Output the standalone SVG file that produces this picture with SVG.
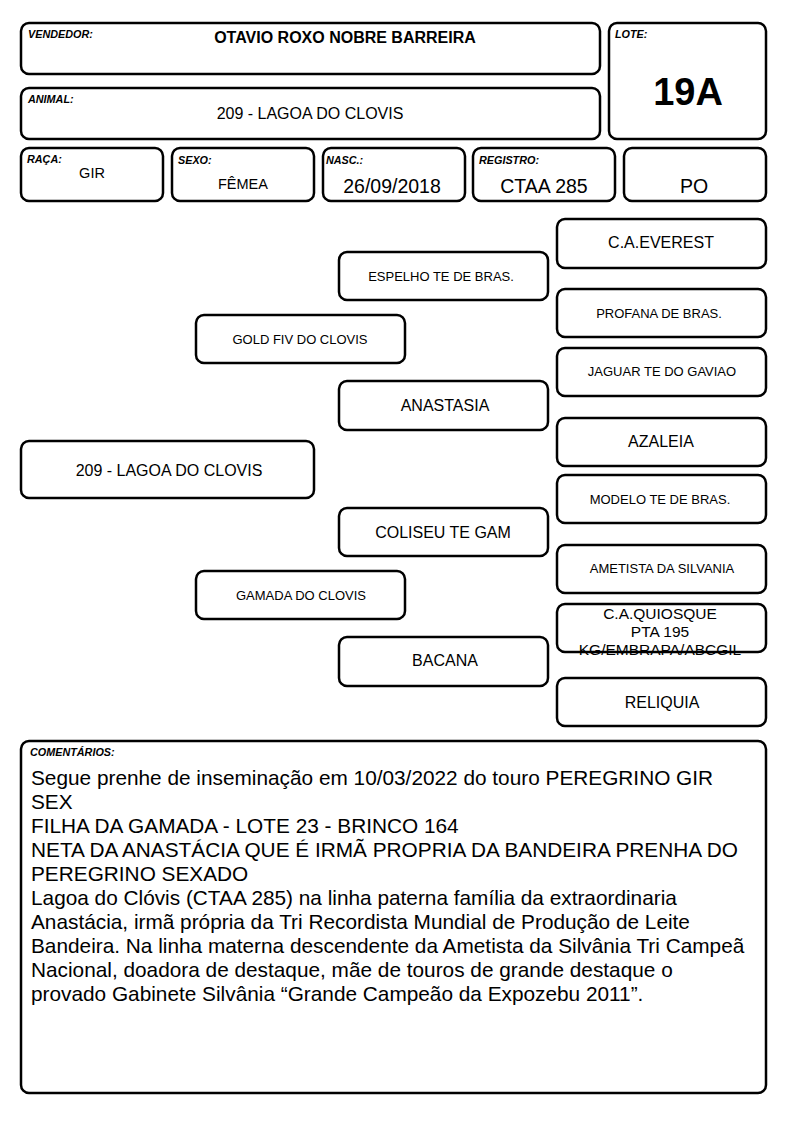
<svg xmlns="http://www.w3.org/2000/svg" width="794" height="1123" viewBox="0 0 794 1123">
<style>
.b{fill:#fff;stroke:#000;stroke-width:2.5}
.t{font-family:"Liberation Sans",Arial,sans-serif;fill:#000}
.lbl{font-family:"Liberation Sans",Arial,sans-serif;font-size:10.8px;font-weight:bold;font-style:italic;fill:#000}
.c{text-anchor:middle}
.s12{font-size:13px}
.s15{font-size:16px}
.s17{font-size:19.5px}
</style>
<rect width="794" height="1123" fill="#fff"/>
<g id="vendedor">
<rect class="b" x="21" y="23" width="579" height="51" rx="8"/>
<text class="lbl" x="28" y="38">VENDEDOR:</text>
<text class="t c" x="345" y="43" font-size="16" font-weight="bold">OTAVIO ROXO NOBRE BARREIRA</text>
</g>
<g id="lote">
<rect class="b" x="609" y="23" width="157" height="116" rx="8"/>
<text class="lbl" x="615" y="38">LOTE:</text>
<text class="t c" x="688" y="105" font-size="38" font-weight="bold">19A</text>
</g>
<g id="animal">
<rect class="b" x="21" y="88" width="579" height="51" rx="8"/>
<text class="lbl" x="28" y="103">ANIMAL:</text>
<text class="t c" x="310" y="119" font-size="16">209 - LAGOA DO CLOVIS</text>
</g>
<g id="raca">
<rect class="b" x="21" y="148" width="142" height="53" rx="8"/>
<text class="lbl" x="27" y="163">RAÇA:</text>
<text class="t c" x="92" y="178" font-size="14.5">GIR</text>
</g>
<g id="sexo">
<rect class="b" x="172" y="148" width="142" height="53" rx="8"/>
<text class="lbl" x="178" y="164">SEXO:</text>
<text class="t c" x="243" y="189" font-size="14.5">FÊMEA</text>
</g>
<g id="nasc">
<rect class="b" x="323" y="148" width="142" height="53" rx="8"/>
<text class="lbl" x="326" y="164">NASC.:</text>
<text class="t c s17" x="392" y="193">26/09/2018</text>
</g>
<g id="registro">
<rect class="b" x="473" y="148" width="142" height="53" rx="8"/>
<text class="lbl" x="479" y="164">REGISTRO:</text>
<text class="t c s17" x="544" y="193">CTAA 285</text>
</g>
<g id="po">
<rect class="b" x="624" y="148" width="142" height="53" rx="8"/>
<text class="t c s17" x="694" y="193">PO</text>
</g>
<g id="everest">
<rect class="b" x="557" y="219" width="209" height="49" rx="8"/>
<text class="t c s15" x="661" y="248">C.A.EVEREST</text>
</g>
<g id="espelho">
<rect class="b" x="339" y="252" width="209" height="48" rx="8"/>
<text class="t c s12" x="441" y="281">ESPELHO TE DE BRAS.</text>
</g>
<g id="profana">
<rect class="b" x="557" y="289" width="209" height="48" rx="8"/>
<text class="t c s12" x="659" y="318">PROFANA DE BRAS.</text>
</g>
<g id="gold">
<rect class="b" x="196" y="315" width="209" height="48" rx="8"/>
<text class="t c s12" x="300" y="344">GOLD FIV DO CLOVIS</text>
</g>
<g id="jaguar">
<rect class="b" x="557" y="348" width="209" height="48" rx="8"/>
<text class="t c s12" x="662" y="376">JAGUAR TE DO GAVIAO</text>
</g>
<g id="anastasia">
<rect class="b" x="339" y="381" width="209" height="49" rx="8"/>
<text class="t c s15" x="445" y="411">ANASTASIA</text>
</g>
<g id="azaleia">
<rect class="b" x="557" y="418" width="209" height="48" rx="8"/>
<text class="t c s15" x="661" y="447">AZALEIA</text>
</g>
<g id="lagoa">
<rect class="b" x="21" y="441" width="293" height="57" rx="8"/>
<text class="t c" x="169" y="476" font-size="16">209 - LAGOA DO CLOVIS</text>
</g>
<g id="modelo">
<rect class="b" x="557" y="475" width="209" height="48" rx="8"/>
<text class="t c s12" x="660" y="504">MODELO TE DE BRAS.</text>
</g>
<g id="coliseu">
<rect class="b" x="339" y="508" width="209" height="48" rx="8"/>
<text class="t c s15" x="443" y="538">COLISEU TE GAM</text>
</g>
<g id="ametista">
<rect class="b" x="557" y="545" width="209" height="48" rx="8"/>
<text class="t c s12" x="662" y="573">AMETISTA DA SILVANIA</text>
</g>
<g id="gamada">
<rect class="b" x="196" y="571" width="209" height="48" rx="8"/>
<text class="t c s12" x="301" y="600">GAMADA DO CLOVIS</text>
</g>
<g id="quiosque">
<rect class="b" x="557" y="604" width="209" height="48" rx="8"/>
<text class="t c" x="660" y="619" font-size="15.5">C.A.QUIOSQUE</text>
<text class="t c" x="660" y="637" font-size="15.5">PTA 195</text>
<text class="t c" x="660" y="655" font-size="15.5">KG/EMBRAPA/ABCGIL</text>
</g>
<g id="bacana">
<rect class="b" x="339" y="637" width="209" height="49" rx="8"/>
<text class="t c s15" x="445" y="666">BACANA</text>
</g>
<g id="reliquia">
<rect class="b" x="557" y="678" width="209" height="48" rx="8"/>
<text class="t c s15" x="662" y="708">RELIQUIA</text>
</g>
<g id="connectors"></g>
<g id="comentarios">
<rect class="b" x="21" y="741" width="745" height="352" rx="8"/>
<text class="lbl" x="30" y="756" font-size="11.3">COMENTÁRIOS:</text>
<g class="t" font-size="20.8">
<text x="31" y="785">Segue prenhe de inseminação em 10/03/2022 do touro PEREGRINO GIR</text>
<text x="31" y="809">SEX</text>
<text x="31" y="833">FILHA DA GAMADA - LOTE 23 - BRINCO 164</text>
<text x="31" y="857">NETA DA ANASTÁCIA QUE É IRMÃ PROPRIA DA BANDEIRA PRENHA DO</text>
<text x="31" y="881">PEREGRINO SEXADO</text>
<text x="31" y="905">Lagoa do Clóvis (CTAA 285) na linha paterna família da extraordinaria</text>
<text x="31" y="929">Anastácia, irmã própria da Tri Recordista Mundial de Produção de Leite</text>
<text x="31" y="953">Bandeira. Na linha materna descendente da Ametista da Silvânia Tri Campeã</text>
<text x="31" y="977">Nacional, doadora de destaque, mãe de touros de grande destaque o</text>
<text x="31" y="1001">provado Gabinete Silvânia “Grande Campeão da Expozebu 2011”.</text>
</g>
</g>
</svg>
